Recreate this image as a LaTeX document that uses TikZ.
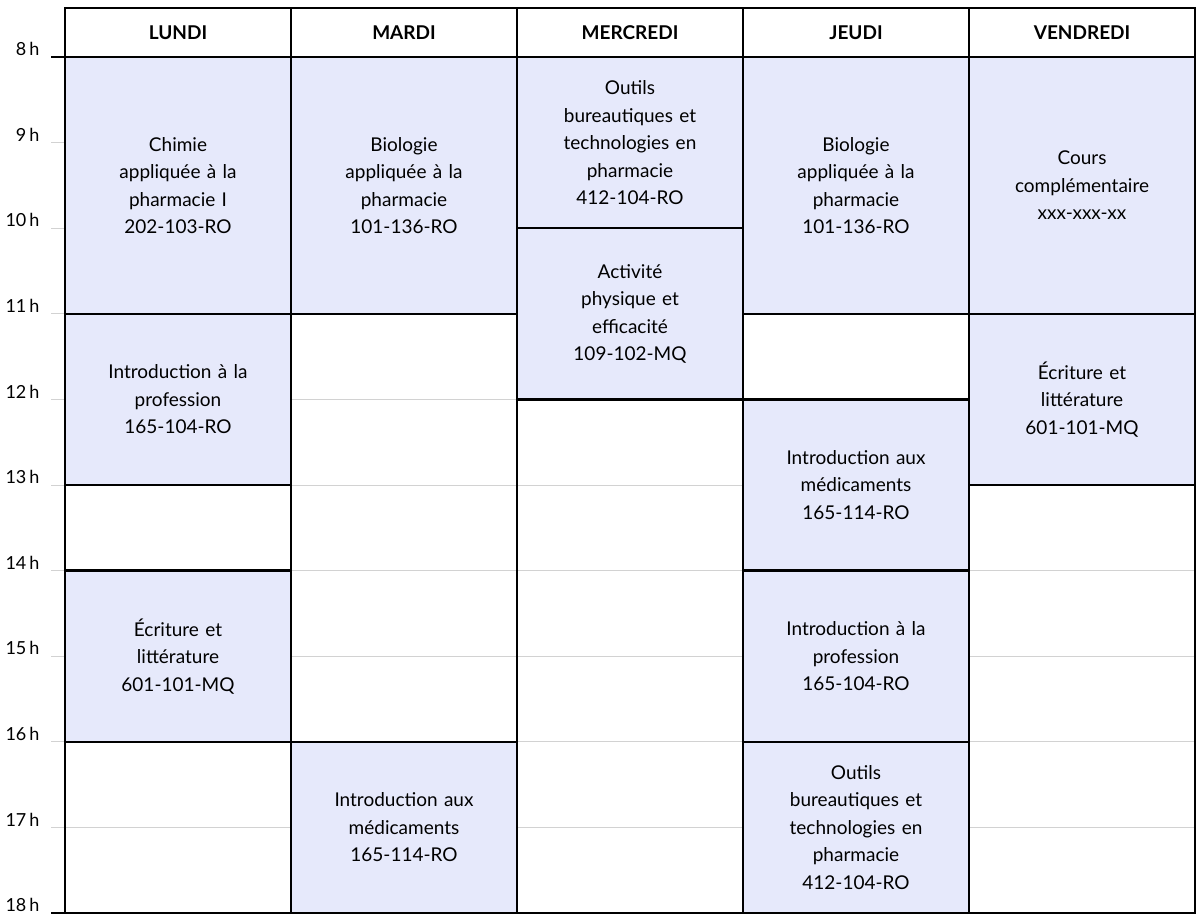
\documentclass[tikz,border=0pt]{standalone}
\usepackage{fontspec}
\setmainfont{Lato}
\begin{document}
\begin{tikzpicture}[x=1pt,y=-1pt,
  cls/.style={draw=black,line width=2.4pt,fill=blockfill,align=center,font=\fontsize{19}{27.5}\selectfont},
  emp/.style={draw=black,line width=2.4pt},
  hdr/.style={font=\fontsize{19}{22}\selectfont\bfseries},
  hr/.style={anchor=east,font=\fontsize{18}{20}\selectfont}]
\definecolor{blockfill}{HTML}{E6E9FB}
\useasboundingbox[fill=white] (0,0) rectangle (1201,921);
\def\Y#1{57+85.6*(#1-8)}
% grey hour lines and labels
\foreach \h in {9,...,17}{
  \draw[gray!35,line width=1pt] (51,{57+85.6*(\h-8)}) coordinate (g\h) -- (1195,{57+85.6*(\h-8)});
}
\foreach \h in {8,...,18}{
  \node[hr] (l\h) at (43,{57+85.6*(\h-8)-8}) {\h\,h};
}
% header
\foreach \x/\n/\t in {65/a/LUNDI,291/b/MARDI,517/c/MERCREDI,743/d/JEUDI,969/e/VENDREDI}{
  \draw[emp] (\x,8) rectangle ++(226,49);
  \node[hdr] (h\n) at (\x+113,33) {\t};
}
\newcommand\blk[5]{% x, start, end, name, text
  \path[cls] (#1,{57+85.6*(#2-8)}) rectangle (#1+226,{57+85.6*(#3-8)});
  \node[align=center,font=\fontsize{19}{27.5}\selectfont,text width=210pt] (#4) at (#1+113,{57+85.6*((#2+#3)/2-8)}) {#5};}
\newcommand\emptyblk[3]{\draw[emp] (#1,{57+85.6*(#2-8)}) rectangle (#1+226,{57+85.6*(#3-8)});}
% Lundi
\blk{65}{8}{11}{a1}{Chimie\\appliquée à la\\pharmacie I\\202-103-RO}
\blk{65}{11}{13}{a2}{Introduction à la\\profession\\165-104-RO}
\emptyblk{65}{13}{14}
\blk{65}{14}{16}{a3}{Écriture et\\littérature\\601-101-MQ}
\emptyblk{65}{16}{18}
% Mardi
\blk{291}{8}{11}{b1}{Biologie\\appliquée à la\\pharmacie\\101-136-RO}
\emptyblk{291}{11}{16}
\blk{291}{16}{18}{b2}{Introduction aux\\médicaments\\165-114-RO}
% Mercredi
\blk{517}{8}{10}{c1}{Outils\\bureautiques et\\technologies en\\pharmacie\\412-104-RO}
\blk{517}{10}{12}{c2}{Activité\\physique et\\efficacité\\109-102-MQ}
\emptyblk{517}{12}{18}
% Jeudi
\blk{743}{8}{11}{d1}{Biologie\\appliquée à la\\pharmacie\\101-136-RO}
\emptyblk{743}{11}{12}
\blk{743}{12}{14}{d2}{Introduction aux\\médicaments\\165-114-RO}
\blk{743}{14}{16}{d3}{Introduction à la\\profession\\165-104-RO}
\blk{743}{16}{18}{d4}{Outils\\bureautiques et\\technologies en\\pharmacie\\412-104-RO}
% Vendredi
\blk{969}{8}{11}{e1}{Cours\\complémentaire\\xxx-xxx-xx}
\blk{969}{11}{13}{e2}{Écriture et\\littérature\\601-101-MQ}
\emptyblk{969}{13}{18}
% black 8h and 18h ticks
\draw[line width=2.4pt] (51,57) -- (65,57);
\draw[line width=2.4pt] (51,913) -- (65,913);
\end{tikzpicture}
\end{document}
